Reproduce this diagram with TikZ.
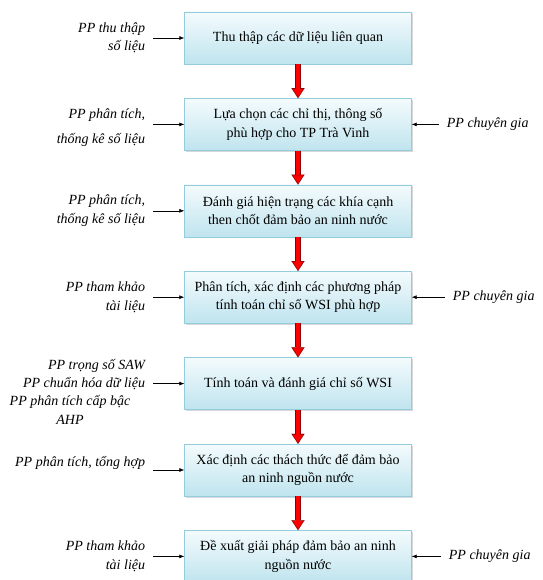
\documentclass[tikz,border=0pt]{standalone}
\usepackage{fontspec}
\setmainfont{Liberation Serif}
\usetikzlibrary{arrows.meta, positioning, shadows}

\definecolor{boxtop}{HTML}{F4FBFD}
\definecolor{boxbot}{HTML}{BFE4EE}
\definecolor{boxline}{HTML}{93CCDC}
\definecolor{flowedge}{HTML}{8A0000}

\begin{document}
\begin{tikzpicture}[
    x=1pt, y=1pt,
    node distance=34pt and 31pt,
    stage/.style={draw=boxline, rectangle, minimum width=227pt, minimum height=52pt, align=center,
        top color=boxtop, bottom color=boxbot, font=\rmfamily\fontsize{14}{18.5}\selectfont,
        drop shadow={shadow xshift=1.5pt, shadow yshift=-1.5pt, fill=gray!60, opacity=0.5}},
    method/.style={font=\rmfamily\itshape\fontsize{14}{18.5}\selectfont, align=right, inner xsep=8pt},
    expert/.style={font=\rmfamily\itshape\fontsize{14}{18.5}\selectfont, inner xsep=8pt},
    flow/.style={line width=6pt, draw=flowedge, -{Triangle[length=10pt, width=13pt, line width=0.1pt]},
        postaction={draw=red, line width=4pt, shorten >=1.2pt, -{Triangle[length=8pt, width=10pt, line width=0.1pt]}}},
    side/.style={-{Latex[length=5pt, width=4pt]}, semithick}
]
\useasboundingbox (0,0) rectangle (542,-580);

% Cac buoc
\node[stage] (collect) at (298,-38) {Thu thập các dữ liệu liên quan};
\node[stage, below=of collect] (choose) {Lựa chọn các chỉ thị, thông số\\ phù hợp cho TP Trà Vinh};
\node[stage, below=of choose] (assess) {Đánh giá hiện trạng các khía cạnh\\ then chốt đảm bảo an ninh nước};
\node[stage, below=of assess] (analyse) {Phân tích, xác định các phương pháp\\ tính toán chỉ số WSI phù hợp};
\node[stage, below=of analyse] (compute) {Tính toán và đánh giá chỉ số WSI};
\node[stage, below=of compute] (challenge) {Xác định các thách thức để đảm bảo\\ an ninh nguồn nước};
\node[stage, below=of challenge] (propose) {Đề xuất giải pháp đảm bảo an ninh\\ nguồn nước};

% Phuong phap ben trai
\node[method, left=of collect] (m1) {PP thu thập\\ số liệu};
\node[method, left=of choose, yshift=-3pt] (m2) {PP phân tích,\\[6pt] thống kê số liệu};
\node[method, left=of assess] (m3) {PP phân tích,\\ thống kê số liệu};
\node[method, left=of analyse] (m4) {PP tham khảo\\ tài liệu};
\node[method, left=of compute, yshift=9pt] (m5) {PP trọng số SAW\\ PP chuẩn hóa dữ liệu};
\node[method, align=center, inner xsep=0pt] (m5b) at (70,-410) {PP phân tích cấp bậc\\ AHP};
\node[method, left=of challenge, yshift=7pt] (m6) {PP phân tích, tổng hợp};
\node[method, left=of propose] (m7) {PP tham khảo\\ tài liệu};

% Y kien chuyen gia ben phai
\node[expert, right=27pt of choose] (e1) {PP chuyên gia};
\node[expert, right=33pt of analyse] (e2) {PP chuyên gia};
\node[expert, right=29pt of propose] (e3) {PP chuyên gia};

% Mui ten
\foreach \i/\j in {collect/choose, choose/assess, assess/analyse, analyse/compute,
                  compute/challenge, challenge/propose}
    \draw[flow] (\i) -- (\j);

\foreach \i/\j in {m1/collect, m2/choose, m3/assess, m4/analyse, m5/compute, m6/challenge, m7/propose}
    \draw[side] (\i.east |- \j.west) -- (\j.west);

\foreach \i/\j in {e1/choose, e2/analyse, e3/propose}
    \draw[side] (\i) -- (\j);

\end{tikzpicture}
\end{document}
